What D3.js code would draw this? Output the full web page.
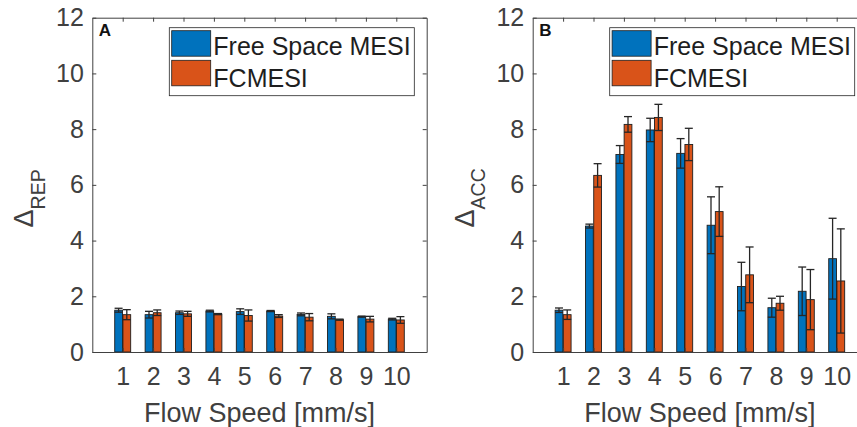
<!DOCTYPE html>
<html>
<head>
<meta charset="utf-8">
<script src="https://d3js.org/d3.v7.min.js"></script>
<style>
    body { margin: 0; background: #ffffff; }
</style>
</head>
<body>
<div id="bar-chart"></div>
<script>

/* DEFINE DATA ************************************************************************/

var speeds = [1, 2, 3, 4, 5, 6, 7, 8, 9, 10];
var seriesNames = ["Free Space MESI", "FCMESI"];
var yTicks = [0, 2, 4, 6, 8, 10, 12];

// Panel A: Delta REP
var repFree    = [1.50, 1.34, 1.41, 1.47, 1.45, 1.47, 1.35, 1.28, 1.27, 1.18];
var repFreeErr = [0.07, 0.12, 0.06, 0.03, 0.10, 0.02, 0.05, 0.09, 0.02, 0.03];
var repFC      = [1.34, 1.41, 1.37, 1.36, 1.31, 1.29, 1.25, 1.16, 1.18, 1.15];
var repFCErr   = [0.18, 0.10, 0.09, 0.02, 0.20, 0.05, 0.13, 0.02, 0.10, 0.12];

// Panel B: Delta ACC
var accFree    = [1.50, 4.52, 7.09, 7.97, 7.13, 4.55, 2.35, 1.59, 2.18, 3.35];
var accFreeErr = [0.08, 0.07, 0.32, 0.42, 0.53, 1.02, 0.87, 0.34, 0.87, 1.45];
var accFC      = [1.34, 6.34, 8.17, 8.42, 7.45, 5.04, 2.77, 1.75, 1.88, 2.55];
var accFCErr   = [0.17, 0.42, 0.28, 0.47, 0.58, 0.89, 1.00, 0.25, 1.08, 1.87];

var drawChart = function(){

    /* DEFINE CHART SETTINGS **************************************************************/

    var fontFamily = "'Liberation Sans', Arial, Helvetica, sans-serif";
    var tickFont = 25;
    var labelFont = 27;
    var legendFont = 25;

    const width = 857;
    const height = 427;
    const plotW = 334.4;
    const plotH = 334.3;
    const top = 17.7;

    var axisColor = "#404040";
    var colors = ["#0072BD", "#D95319"];
    var barW = 0.255;      // in x units
    var barOffset = 0.135; // in x units
    var capW = 8;

    /* CREATE SVG  ************************************************************************/

    var svg = d3.select('#bar-chart')
        .append('svg')
        .attr("width", width)
        .attr("height", height)
        .style('background-color', '#ffffff')
        .style('font-family', fontFamily);

    var panels = [
        {left: 92.3, letter: "A", sub: "REP", values: [repFree, repFC], errors: [repFreeErr, repFCErr]},
        {left: 532.7, letter: "B", sub: "ACC", values: [accFree, accFC], errors: [accFreeErr, accFCErr]}
    ];

    var x = d3.scaleLinear().domain([0, 11]).range([0, plotW]);
    var y = d3.scaleLinear().domain([0, 12]).range([plotH, 0]);

    panels.forEach(function(p){

        var g = svg.append("g")
            .attr("transform", `translate(${p.left},${top})`);

        // Bars for both series
        p.values.forEach(function(vals, s){
            var off = s == 0 ? -barOffset : barOffset;
            g.append("g").selectAll("rect")
                .data(speeds)
                .join("rect")
                .attr("x", (d, i) => x(d + off - barW/2))
                .attr("width", x(barW) - x(0))
                .attr("y", (d, i) => y(vals[i]))
                .attr("height", (d, i) => y(0) - y(vals[i]))
                .attr("fill", colors[s])
                .attr("stroke", "#1e1e1e")
                .attr("stroke-width", 0.9);
        });

        // Error bars
        p.values.forEach(function(vals, s){
            var off = s == 0 ? -barOffset : barOffset;
            var errs = p.errors[s];
            var eg = g.append("g")
                .attr("stroke", "#262626")
                .attr("stroke-width", 1.3);
            speeds.forEach(function(d, i){
                var cx = x(d + off);
                var lo = y(vals[i] - errs[i]);
                var hi = y(vals[i] + errs[i]);
                eg.append("line").attr("x1", cx).attr("x2", cx).attr("y1", lo).attr("y2", hi);
                eg.append("line").attr("x1", cx - capW/2).attr("x2", cx + capW/2).attr("y1", lo).attr("y2", lo);
                eg.append("line").attr("x1", cx - capW/2).attr("x2", cx + capW/2).attr("y1", hi).attr("y2", hi);
            });
        });

        // Axes (ticks inside, box on)
        var xAxis = d3.axisBottom(x).tickValues(speeds).tickSizeInner(-4).tickSizeOuter(0).tickPadding(15.3);
        var yAxis = d3.axisLeft(y).tickValues(yTicks).tickSizeInner(-4).tickSizeOuter(0).tickPadding(8.5);

        var gx = g.append("g").attr("transform", `translate(0,${plotH})`).call(xAxis);
        var gy = g.append("g").call(yAxis);
        g.append("g").call(d3.axisTop(x).tickValues(speeds).tickSizeInner(-4).tickSizeOuter(0).tickFormat(""));
        g.append("g").attr("transform", `translate(${plotW},0)`)
            .call(d3.axisRight(y).tickValues(yTicks).tickSizeInner(-4).tickSizeOuter(0).tickFormat(""));

        g.selectAll(".domain, .tick line").attr("stroke", axisColor);
        [gx, gy].forEach(function(a){
            a.selectAll("text")
                .attr("fill", axisColor)
                .style("font-size", tickFont + "px")
                .style("font-family", fontFamily);
        });

        // Panel letter
        g.append("text")
            .attr("x", 6.5)
            .attr("y", 18.5)
            .attr("font-weight", "bold")
            .attr("font-size", 17)
            .attr("fill", "#111")
            .text(p.letter);

        // Legend
        var lg = g.append("g").attr("transform", "translate(77,10)");
        lg.append("rect")
            .attr("width", 245).attr("height", 68)
            .attr("fill", "#ffffff")
            .attr("stroke", "#262626")
            .attr("stroke-width", 0.8);
        seriesNames.forEach(function(name, s){
            lg.append("rect")
                .attr("x", 2.4).attr("y", 3 + s*29.6)
                .attr("width", 39).attr("height", 25.5)
                .attr("fill", colors[s])
                .attr("stroke", "#1e1e1e")
                .attr("stroke-width", 0.8);
            lg.append("text")
                .attr("x", 44)
                .attr("y", 27.3 + s*32.3)
                .attr("font-size", legendFont)
                .attr("fill", "#1e1e1e")
                .text(name);
        });

        // Axis labels
        g.append("text")
            .attr("x", plotW/2)
            .attr("y", 421.7 - top)
            .attr("text-anchor", "middle")
            .attr("font-size", labelFont)
            .attr("fill", axisColor)
            .text("Flow Speed [mm/s]");

        var yl = g.append("text")
            .attr("transform", `translate(${33.3 - 92.3},${227.5 - top}) rotate(-90)`)
            .attr("font-size", labelFont)
            .attr("fill", axisColor);
        yl.append("tspan").text("\u0394");
        yl.append("tspan").attr("dy", 11.7).attr("font-size", 19.5).text(p.sub);
    });
}

// Call function to draw the chart once window load is complete
window.addEventListener("load", drawChart)
</script>
</body>
</html>
